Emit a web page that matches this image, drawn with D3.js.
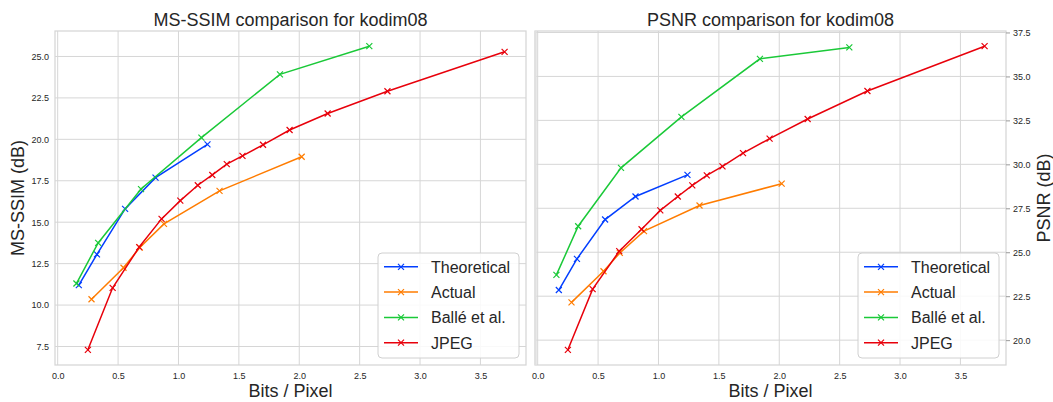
<!DOCTYPE html>
<html>
<head>
<meta charset="utf-8">
<script src="https://cdn.jsdelivr.net/npm/d3@7"></script>
<style>
  html, body { margin: 0; padding: 0; background: #fff; }
  svg { display: block; font-family: "Liberation Sans", Arial, sans-serif; }
</style>
</head>
<body>
<svg id="chart" width="1053" height="402"></svg>
<script>
// ---- data ----
const seriesNames = ["Theoretical", "Actual", "Ballé et al.", "JPEG"];
const seriesColors = ["#023eff", "#ff7c00", "#1ac938", "#e8000b"];

const theoreticalBpp = [0.175, 0.325, 0.558, 0.81, 1.24];
const actualBpp      = [0.28, 0.545, 0.68, 0.88, 1.34, 2.02];
const balleBpp       = [0.155, 0.335, 0.69, 1.19, 1.84, 2.58];
const jpegBpp        = [0.25, 0.455, 0.675, 0.86, 1.015, 1.16, 1.28, 1.40, 1.53, 1.70, 1.92, 2.235, 2.73, 3.70];

const theoreticalMsssim = [11.2, 13.06, 15.8, 17.69, 19.7];
const actualMsssim      = [10.35, 12.25, 13.47, 14.9, 16.89, 18.95];
const balleMsssim       = [11.3, 13.75, 17.0, 20.1, 23.92, 25.62];
const jpegMsssim        = [7.3, 11.04, 13.5, 15.2, 16.3, 17.23, 17.85, 18.5, 19.0, 19.67, 20.56, 21.56, 22.9, 25.28];

const theoreticalPsnr = [22.85, 24.62, 26.86, 28.17, 29.4];
const actualPsnr      = [22.15, 23.92, 24.96, 26.2, 27.66, 28.9];
const ballePsnr       = [23.71, 26.48, 29.8, 32.7, 36.0, 36.65];
const jpegPsnr        = [19.45, 22.9, 25.06, 26.31, 27.38, 28.17, 28.8, 29.37, 29.88, 30.64, 31.46, 32.58, 34.17, 36.72];

const xTicks = [0.0, 0.5, 1.0, 1.5, 2.0, 2.5, 3.0, 3.5];
const msssimTicks = [7.5, 10.0, 12.5, 15.0, 17.5, 20.0, 22.5, 25.0];
const psnrTicks = [20.0, 22.5, 25.0, 27.5, 30.0, 32.5, 35.0, 37.5];

const bppLists = [theoreticalBpp, actualBpp, balleBpp, jpegBpp];

// ---- drawing ----
const svg = d3.select("#chart");
const gridColor = "#d6d6d6";
const textColor = "#262626";

function padded(values) {
  const lo = d3.min(values), hi = d3.max(values);
  const m = (hi - lo) * 0.05;
  return [lo - m, hi + m];
}

function panel(opts) {
  const { x0, x1, y0, y1, yLists, yTicks, title, ylabel, rightAxis, legendX } = opts;
  const g = svg.append("g");
  const allX = [].concat(...bppLists);
  const allY = [].concat(...yLists);
  const x = d3.scaleLinear().domain(padded(allX)).range([x0, x1]);
  const y = d3.scaleLinear().domain(padded(allY)).range([y1, y0]);

  // grid
  g.append("g").selectAll("line").data(xTicks).join("line")
    .attr("x1", d => x(d)).attr("x2", d => x(d))
    .attr("y1", y0).attr("y2", y1)
    .attr("stroke", gridColor).attr("stroke-width", 1);
  g.append("g").selectAll("line").data(yTicks).join("line")
    .attr("y1", d => y(d)).attr("y2", d => y(d))
    .attr("x1", x0).attr("x2", x1)
    .attr("stroke", gridColor).attr("stroke-width", 1);

  // frame
  g.append("rect").attr("x", x0).attr("y", y0)
    .attr("width", x1 - x0).attr("height", y1 - y0)
    .attr("fill", "none").attr("stroke", gridColor).attr("stroke-width", 1.25);
  if (rightAxis) {
    g.append("line").attr("x1", x0 + 0.5).attr("x2", x0 + 0.5).attr("y1", y0).attr("y2", y1)
      .attr("stroke", "#e0e0e0").attr("stroke-width", 2.5);
  }

  // x axis labels
  const xa = g.append("g").attr("transform", `translate(0,${y1})`)
    .call(d3.axisBottom(x).tickValues(xTicks).tickFormat(d3.format(".1f")).tickSize(0).tickPadding(8));
  xa.select(".domain").remove();
  xa.selectAll("text").attr("fill", textColor).style("font-size", "9px")
    .style("font-family", '"Liberation Sans", Arial, sans-serif');

  // y axis labels
  if (rightAxis) {
    const ya = g.append("g").attr("transform", `translate(${x1},0)`)
      .call(d3.axisRight(y).tickValues(yTicks).tickFormat(d3.format(".1f")).tickSize(4).tickPadding(3));
    ya.select(".domain").remove();
    ya.selectAll("line").attr("stroke", "#9a9a9a");
    ya.selectAll("text").attr("fill", textColor).style("font-size", "9px")
      .style("font-family", '"Liberation Sans", Arial, sans-serif');
  } else {
    const ya = g.append("g").attr("transform", `translate(${x0},0)`)
      .call(d3.axisLeft(y).tickValues(yTicks).tickFormat(d3.format(".1f")).tickSize(0).tickPadding(6));
    ya.select(".domain").remove();
    ya.selectAll("text").attr("fill", textColor).style("font-size", "9px")
      .style("font-family", '"Liberation Sans", Arial, sans-serif');
  }

  // series
  const line = d3.line().x(d => x(d[0])).y(d => y(d[1]));
  const markerSize = 3;
  bppLists.forEach((bpp, i) => {
    const pts = bpp.map((b, j) => [b, yLists[i][j]]);
    const sg = g.append("g");
    sg.append("path").datum(pts).attr("d", line)
      .attr("fill", "none").attr("stroke", seriesColors[i]).attr("stroke-width", 1.5);
    sg.selectAll("path.m").data(pts).join("path").attr("class", "m")
      .attr("d", d => {
        const cx = x(d[0]), cy = y(d[1]), s = markerSize;
        return `M${cx - s},${cy - s}L${cx + s},${cy + s}M${cx - s},${cy + s}L${cx + s},${cy - s}`;
      })
      .attr("stroke", seriesColors[i]).attr("stroke-width", 1.2).attr("fill", "none");
  });

  // title
  g.append("text").attr("x", (x0 + x1) / 2).attr("y", 25.5)
    .attr("text-anchor", "middle").attr("fill", textColor)
    .style("font-size", "18px").text(title);

  // x label
  g.append("text").attr("x", (x0 + x1) / 2).attr("y", 397)
    .attr("text-anchor", "middle").attr("fill", textColor)
    .style("font-size", "18px").text("Bits / Pixel");

  // y label
  const ylx = rightAxis ? 1050 : 23.5;
  g.append("text")
    .attr("transform", `translate(${ylx},${(y0 + y1) / 2}) rotate(-90)`)
    .attr("text-anchor", "middle").attr("fill", textColor)
    .style("font-size", "18px").text(ylabel);

  // legend
  const lw = 141, lh = 105;
  const lx = legendX, ly = y1 - 7 - lh;
  const lg = g.append("g");
  lg.append("rect").attr("x", lx).attr("y", ly).attr("width", lw).attr("height", lh)
    .attr("rx", 4).attr("fill", "#ffffff").attr("fill-opacity", 0.85)
    .attr("stroke", "#d0d0d0").attr("stroke-width", 1);
  seriesNames.forEach((name, i) => {
    const cy = ly + 13.8 + i * 25.3;
    lg.append("line").attr("x1", lx + 6).attr("x2", lx + 40).attr("y1", cy).attr("y2", cy)
      .attr("stroke", seriesColors[i]).attr("stroke-width", 1.5);
    const s = 3, cx = lx + 23;
    lg.append("path")
      .attr("d", `M${cx - s},${cy - s}L${cx + s},${cy + s}M${cx - s},${cy + s}L${cx + s},${cy - s}`)
      .attr("stroke", seriesColors[i]).attr("stroke-width", 1.2);
    lg.append("text").attr("x", lx + 53).attr("y", cy + 5.8)
      .attr("fill", textColor).style("font-size", "16px").text(name);
  });
}

panel({
  x0: 55, x1: 526, y0: 31, y1: 365,
  yLists: [theoreticalMsssim, actualMsssim, balleMsssim, jpegMsssim],
  yTicks: msssimTicks,
  title: "MS-SSIM comparison for kodim08",
  ylabel: "MS-SSIM (dB)",
  rightAxis: false,
  legendX: 378
});

panel({
  x0: 535, x1: 1006, y0: 31, y1: 365,
  yLists: [theoreticalPsnr, actualPsnr, ballePsnr, jpegPsnr],
  yTicks: psnrTicks,
  title: "PSNR comparison for kodim08",
  ylabel: "PSNR (dB)",
  rightAxis: true,
  legendX: 858
});
</script>
</body>
</html>
